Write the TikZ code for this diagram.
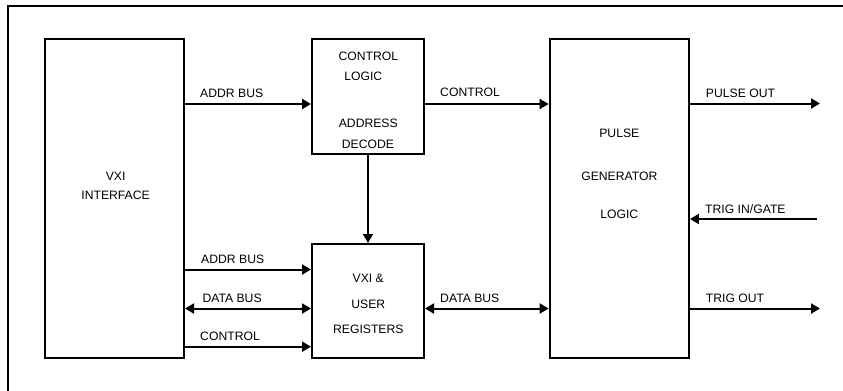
\documentclass[tikz,border=0pt]{standalone}
\usepackage{fontspec}
\setmainfont{Liberation Sans}
\usepackage{tikz}
\usetikzlibrary{positioning, arrows.meta}
\tikzstyle{pixelGrid} = [x = 0.03cm, y = -0.03cm]
\tikzstyle{blockStyle} = [draw=black, line width=0.06cm, inner sep=0pt]
\tikzstyle{blockText} = [font=\fontsize{10.4}{12}\selectfont, inner sep=0pt]
\tikzstyle{busText} = [font=\fontsize{10.4}{12}\selectfont, inner sep=0pt, anchor=west, text depth=0pt]
\tikzstyle{busLine} = [line width=0.06cm, -{Triangle[length=0.27cm, width=0.3cm]}]
\tikzstyle{busBoth} = [line width=0.06cm, {Triangle[length=0.27cm, width=0.3cm]}-{Triangle[length=0.27cm, width=0.3cm]}]
\tikzstyle{frameLine} = [line width=0.06cm]

\begin{document}
\begin{tikzpicture}[pixelGrid]
  \clip (0,0) rectangle (843,390);
  \draw [frameLine] (7.5,5.7) rectangle (900,450);

  % blocks
  \node [blockStyle, minimum width=4.17cm, minimum height=9.56cm] (vxi) at (114.5,198.8) {};
  \node [blockStyle, minimum width=3.36cm, minimum height=3.44cm] (ctl) at (368,96.8) {};
  \node [blockStyle, minimum width=3.36cm, minimum height=3.42cm] (reg) at (368,301) {};
  \node [blockStyle, minimum width=4.18cm, minimum height=9.56cm] (pulse) at (619.3,198.8) {};

  % block texts
  \node [blockText] (vxiA) at (115.6,176.7) {VXI};
  \node [blockText] (vxiB) at (115.6,195.7) {INTERFACE};
  \node [blockText] (ctlA) at (368.3,56.7) {CONTROL};
  \node [blockText] (ctlB) at (363.3,76.7) {LOGIC};
  \node [blockText] (ctlC) at (368.3,123.7) {ADDRESS};
  \node [blockText] (ctlD) at (368,144.3) {DECODE};
  \node [blockText] (regA) at (368.3,278.3) {VXI \&};
  \node [blockText] (regB) at (368.3,304.3) {USER};
  \node [blockText] (regC) at (368.3,329.3) {REGISTERS};
  \node [blockText] (pulseA) at (619.3,133.3) {PULSE};
  \node [blockText] (pulseB) at (619.3,176.3) {GENERATOR};
  \node [blockText] (pulseC) at (619.3,214.3) {LOGIC};

  % free ends
  \coordinate (pulseOut) at (820,103.5);
  \coordinate (trigIn) at (817,219);
  \coordinate (trigOut) at (820,308.5);

  % connectors
  \draw [busLine] (vxi.east |- 0,104) -- (ctl.west |- 0,104);
  \draw [busLine] (ctl.east |- 0,104) -- (pulse.west |- 0,104);
  \draw [busLine] (pulse.east |- pulseOut) -- (pulseOut);
  \draw [busLine] (trigIn) -- (pulse.east |- trigIn);
  \draw [busLine] (pulse.east |- trigOut) -- (trigOut);
  \draw [line width=0.045cm, -{Triangle[length=0.27cm, width=0.3cm]}] (ctl.south) -- (reg.north);
  \draw [busLine] (vxi.east |- 0,269.5) -- (reg.west |- 0,269.5);
  \draw [busBoth] (vxi.east |- 0,308.5) -- (reg.west |- 0,308.5);
  \draw [busLine] (vxi.east |- 0,346.7) -- (reg.west |- 0,346.7);
  \draw [busBoth] (reg.east |- 0,308.5) -- (pulse.west |- 0,308.5);

  % bus labels
  \node [busText] (lblA) at (200,93.5) {ADDR BUS};
  \node [busText] (lblB) at (440,92.7) {CONTROL};
  \node [busText] (lblC) at (705.7,93.3) {PULSE OUT};
  \node [busText] (lblD) at (705,209.3) {TRIG IN/GATE};
  \node [busText] (lblE) at (705.7,298.3) {TRIG OUT};
  \node [busText] (lblF) at (440,298.3) {DATA BUS};
  \node [busText] (lblG) at (201,259.3) {ADDR BUS};
  \node [busText] (lblH) at (202.3,298.3) {DATA BUS};
  \node [busText] (lblI) at (200,336.7) {CONTROL};
\end{tikzpicture}
\end{document}
